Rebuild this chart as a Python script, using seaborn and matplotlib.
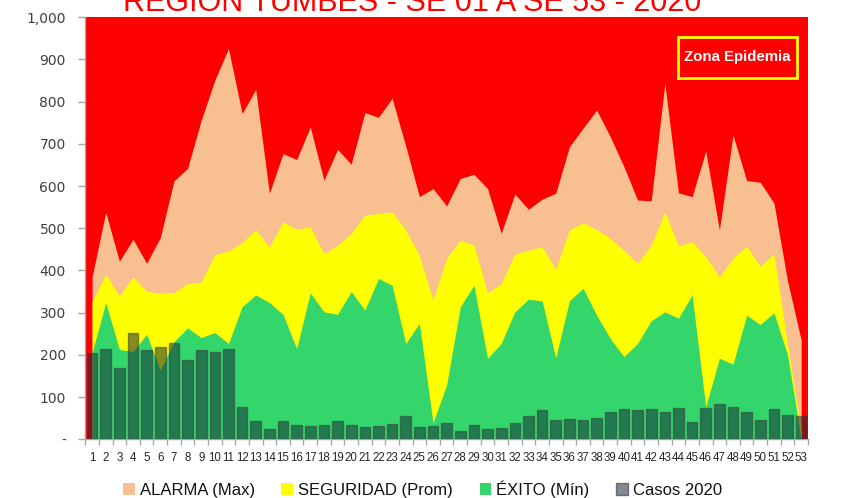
import matplotlib
matplotlib.use("Agg")
import matplotlib.pyplot as plt
import seaborn as sns
import numpy as np
import pandas as pd
from matplotlib.patches import Patch, Rectangle
from matplotlib.ticker import FixedLocator, FuncFormatter, NullFormatter

# Epidemiological weeks and endemic channel limits
weeks = list(range(1, 54))

alarma_max = [385, 538, 422, 474, 417, 478, 612, 642, 756, 851,
              926, 772, 829, 583, 677, 663, 740, 614, 687, 652,
              774, 763, 808, 695, 575, 594, 553, 618, 628, 594,
              488, 581, 545, 569, 583, 693, 737, 780, 717, 646,
              567, 565, 843, 584, 575, 683, 496, 721, 613, 609,
              560, 375, 235]

seguridad_prom = [326, 391, 340, 385, 351, 346, 348, 369, 373, 438,
                  446, 466, 497, 455, 515, 498, 503, 440, 460, 488,
                  531, 535, 539, 496, 435, 330, 429, 472, 460, 347,
                  369, 439, 448, 456, 403, 496, 513, 497, 476, 448,
                  417, 460, 539, 458, 468, 433, 385, 429, 458, 410,
                  439, 225, 20]

exito_min = [205, 324, 213, 208, 249, 164, 231, 264, 241, 253,
             227, 314, 342, 324, 296, 215, 347, 302, 296, 350,
             306, 381, 365, 227, 275, 39, 129, 314, 365, 192,
             227, 302, 332, 328, 193, 328, 358, 294, 239, 196,
             227, 281, 302, 287, 342, 77, 192, 178, 294, 272,
             300, 200, 0]

casos_2020 = [205, 213, 168, 253, 211, 219, 228, 188, 211, 207,
              215, 77, 44, 24, 44, 33, 31, 33, 43, 33,
              28, 31, 37, 54, 28, 31, 39, 20, 35, 24,
              27, 38, 54, 69, 46, 49, 45, 50, 64, 72,
              69, 72, 65, 73, 41, 75, 84, 77, 64, 46,
              72, 57, 54]

ytick_values = list(range(0, 1001, 100))

C_EPIDEMIA = "#FF0000"
C_ALARMA = "#F8BF90"
C_SEGURIDAD = "#FFFF00"
C_EXITO = "#34D66B"
C_CASOS = "#152639"
CASOS_ALPHA = 0.53

sns.set_theme(style="white")
plt.rcParams["font.family"] = ["Liberation Sans", "DejaVu Sans"]

fig = plt.figure(figsize=(8.46, 4.98), dpi=100)
fig.patch.set_facecolor("white")

ax = fig.add_axes([0.1008, 0.1179, 0.8543, 0.8474])
ax.set_facecolor(C_EPIDEMIA)

df = pd.DataFrame({"semana": [str(w) for w in weeks], "casos": casos_2020})
sns.barplot(data=df, x="semana", y="casos", color=C_CASOS, saturation=1,
            alpha=CASOS_ALPHA, edgecolor="#3a3a3a", linewidth=1.0,
            width=0.78, ax=ax, zorder=3)

x = np.arange(len(weeks))
# stacked channel zones, each filled from zero so the layers meet cleanly
ax.fill_between(x, 0, alarma_max, color=C_ALARMA, lw=0, zorder=1)
ax.fill_between(x, 0, seguridad_prom, color=C_SEGURIDAD, lw=0, zorder=1.1)
ax.fill_between(x, 0, exito_min, color=C_EXITO, lw=0, zorder=1.2)

ax.set_xlim(-0.5, len(weeks) - 0.5)
ax.set_ylim(0, 1000)
ax.set_xlabel("")
ax.set_ylabel("")

ax.yaxis.set_major_locator(FixedLocator(ytick_values))
ax.yaxis.set_major_formatter(FuncFormatter(lambda v, p: "-" if v == 0 else f"{int(v):,}"))
ax.tick_params(axis="y", direction="out", length=5, width=1, color="#A6A6A6",
               pad=9, labelsize=10, labelcolor="#404040", left=True)
for lbl in ax.get_yticklabels():
    lbl.set_family("DejaVu Sans")

ax.xaxis.set_major_locator(FixedLocator(x))
ax.set_xticklabels([str(w) for w in weeks])
ax.xaxis.set_minor_locator(FixedLocator(np.arange(-0.5, len(weeks), 1.0)))
ax.xaxis.set_minor_formatter(NullFormatter())
ax.tick_params(axis="x", which="major", length=0, pad=9, labelsize=8.3,
               labelcolor="#262626")
ax.tick_params(axis="x", which="minor", direction="out", length=4, width=1,
               color="#A6A6A6", bottom=True)

for side in ("top", "right"):
    ax.spines[side].set_visible(False)
for side in ("left", "bottom"):
    ax.spines[side].set_color("#A6A6A6")
    ax.spines[side].set_linewidth(1)
ax.grid(False)

# epidemic zone label
ax.add_patch(Rectangle((0.820, 0.856), 0.165, 0.097, transform=ax.transAxes,
                       facecolor=C_EPIDEMIA, edgecolor="#FFFF00", linewidth=2,
                       zorder=5))
ax.text(0.9025, 0.905, "Zona Epidemia", transform=ax.transAxes, color="white",
        fontsize=10.8, fontweight="bold", ha="center", va="center", zorder=6)

fig.text(0.487, 1 - 11 / 498, "REGION TUMBES - SE 01 A SE 53 - 2020",
         color="#FF0000", fontsize=22, ha="center", va="baseline")

handles = [
    Patch(facecolor=C_ALARMA, edgecolor="none", label="ALARMA (Max)"),
    Patch(facecolor=C_SEGURIDAD, edgecolor="none", label="SEGURIDAD (Prom)"),
    Patch(facecolor=C_EXITO, edgecolor="none", label="ÉXITO (Mín)"),
    Patch(facecolor=C_CASOS, alpha=CASOS_ALPHA, edgecolor="#202020",
          label="Casos 2020"),
]
leg = fig.legend(handles=handles, loc="center", bbox_to_anchor=(0.4994, 1 - 489 / 498),
                 ncol=4, frameon=False, fontsize=12, handlelength=0.7,
                 handleheight=0.7, handletextpad=0.3, columnspacing=1.6)
for t in leg.get_texts():
    t.set_color("#111111")

fig.savefig("out.png", dpi=100, facecolor="white")
